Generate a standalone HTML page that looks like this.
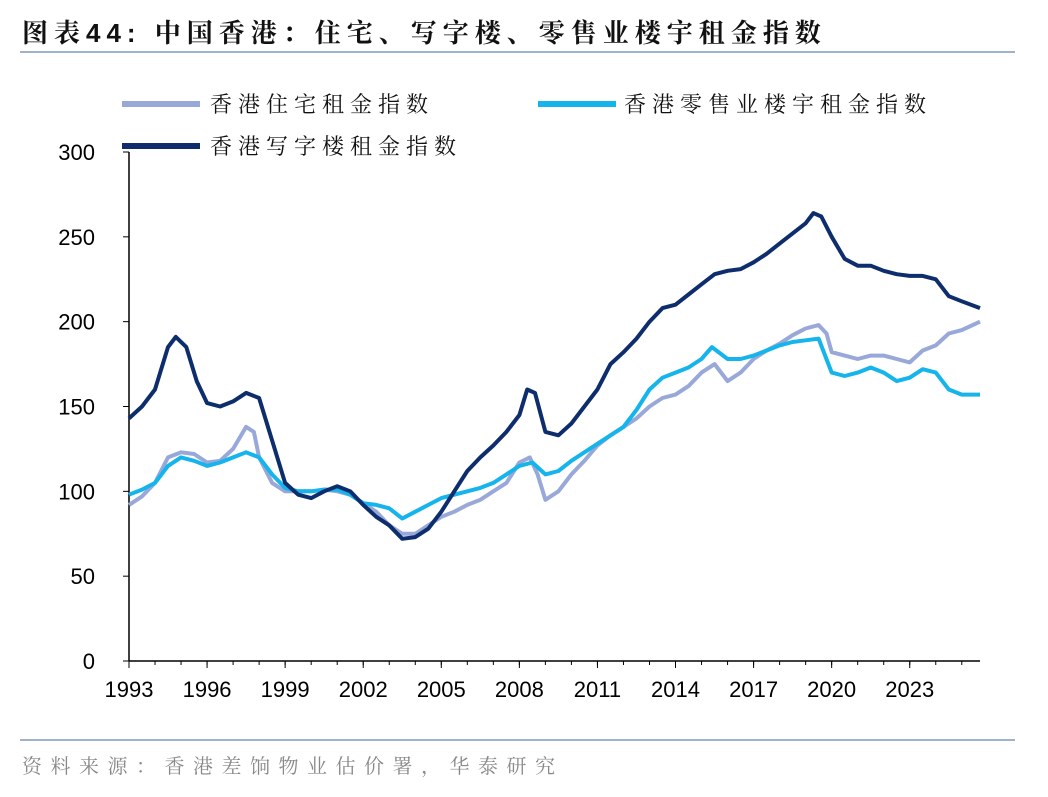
<!DOCTYPE html>
<html><head><meta charset="utf-8"><style>
body{margin:0;width:1048px;height:792px;background:#fff;font-family:"Liberation Sans","Noto Sans CJK SC",sans-serif;overflow:hidden}
</style></head><body>
<svg width="1048" height="792">
<text x="22" y="42" font-size="26" font-weight="bold" fill="#111" letter-spacing="6" font-family="Liberation Sans,Noto Serif CJK SC,serif">图表44:  中国香港：住宅、写字楼、零售业楼宇租金指数</text>
<line x1="20" y1="52" x2="1015" y2="52" stroke="#9fb3cb" stroke-width="2"/>
<g font-size="22" fill="#111" font-family="Liberation Sans,Noto Serif CJK SC,serif">
<line x1="122" y1="104" x2="200" y2="104" stroke="#98a8d8" stroke-width="6"/>
<text x="210" y="112" letter-spacing="6">香港住宅租金指数</text>
<line x1="538" y1="104" x2="616" y2="104" stroke="#16b4ec" stroke-width="6"/>
<text x="624" y="112" letter-spacing="6">香港零售业楼宇租金指数</text>
<line x1="122" y1="146" x2="200" y2="146" stroke="#0d2d6c" stroke-width="6"/>
<text x="210" y="154" letter-spacing="6">香港写字楼租金指数</text>
</g>
<g id="axes"></g>
<g id="series"></g>
<line x1="20" y1="740" x2="1015" y2="740" stroke="#9fb3cb" stroke-width="2"/>
<text x="22" y="773" font-size="20" fill="#888" letter-spacing="8.5" font-family="Liberation Sans,Noto Serif CJK SC,serif">资料来源：香港差饷物业估价署，华泰研究</text>
</svg>
<script>
const yTicks=[0,50,100,150,200,250,300];
const xTicks=[1993,1996,1999,2002,2005,2008,2011,2014,2017,2020,2023];
const officeT=[1993,1993.5,1994,1994.5,1994.8,1995.2,1995.6,1996,1996.5,1997,1997.5,1998,1998.5,1999,1999.5,2000,2000.5,2001,2001.5,2002,2002.5,2003,2003.5,2004,2004.5,2005,2005.5,2006,2006.5,2007,2007.5,2008,2008.3,2008.6,2009,2009.5,2010,2010.5,2011,2011.5,2012,2012.5,2013,2013.5,2014,2014.5,2015,2015.5,2016,2016.5,2017,2017.5,2018,2018.5,2019,2019.3,2019.6,2020,2020.5,2021,2021.5,2022,2022.5,2023,2023.5,2024,2024.5,2025,2025.7];
const officeV=[143,150,160,185,191,185,165,152,150,153,158,155,130,105,98,96,100,103,100,92,85,80,72,73,78,88,100,112,120,127,135,145,160,158,135,133,140,150,160,175,182,190,200,208,210,216,222,228,230,231,235,240,246,252,258,264,262,250,237,233,233,230,228,227,227,225,215,212,208];
const resT=[1993,1993.5,1994,1994.5,1995,1995.5,1996,1996.5,1997,1997.5,1997.8,1998,1998.5,1999,1999.5,2000,2000.5,2001,2001.5,2002,2002.5,2003,2003.5,2004,2004.5,2005,2005.5,2006,2006.5,2007,2007.5,2008,2008.4,2008.7,2009,2009.5,2010,2010.5,2011,2011.5,2012,2012.5,2013,2013.5,2014,2014.5,2015,2015.5,2016,2016.5,2017,2017.5,2018,2018.5,2019,2019.5,2019.8,2020,2020.5,2021,2021.5,2022,2022.5,2023,2023.5,2024,2024.5,2025,2025.7];
const resV=[92,97,105,120,123,122,117,118,125,138,135,120,105,100,100,100,101,100,98,93,88,80,75,75,80,85,88,92,95,100,105,117,120,110,95,100,110,118,127,133,138,143,150,155,157,162,170,175,165,170,178,183,187,192,196,198,193,182,180,178,180,180,178,176,183,186,193,195,200];
const retT=[1993,1993.5,1994,1994.5,1995,1995.5,1996,1996.5,1997,1997.5,1998,1998.5,1999,1999.5,2000,2000.5,2001,2001.5,2002,2002.5,2003,2003.5,2004,2004.5,2005,2005.5,2006,2006.5,2007,2007.5,2008,2008.5,2009,2009.5,2010,2010.5,2011,2011.5,2012,2012.5,2013,2013.5,2014,2014.5,2015,2015.4,2016,2016.5,2017,2017.5,2018,2018.5,2019,2019.5,2020,2020.5,2021,2021.5,2022,2022.5,2023,2023.5,2024,2024.5,2025,2025.7];
const retV=[98,101,105,115,120,118,115,117,120,123,120,110,102,100,100,101,101,98,93,92,90,84,88,92,96,98,100,102,105,110,115,117,110,112,118,123,128,133,138,148,160,167,170,173,178,185,178,178,180,183,186,188,189,190,170,168,170,173,170,165,167,172,170,160,157,157];
const NS="http://www.w3.org/2000/svg";
const x=t=>129+(t-1993)*(980-129)/(2025.7-1993);
const y=v=>661-v*(661-152)/300;
function mk(tag,attrs,parent){const e=document.createElementNS(NS,tag);for(const k in attrs)e.setAttribute(k,attrs[k]);parent.appendChild(e);return e;}
const ax=document.getElementById('axes');
let yl=mk('line',{x1:129,y1:152,x2:129,y2:661,stroke:'#000','stroke-width':1.5},ax);


let xl=mk('line',{x1:129,y1:661,x2:980,y2:661,stroke:'#000','stroke-width':1.5},ax);


yTicks.forEach(v=>{mk('line',{x1:123,x2:129,y1:y(v),y2:y(v),stroke:'#000'},ax);
const t=mk('text',{x:95,y:y(v)+8,'font-size':22,'text-anchor':'end',fill:'#000'},ax);t.textContent=v;

});
xTicks.forEach(v=>{mk('line',{x1:x(v),x2:x(v),y1:661,y2:668,stroke:'#000'},ax);
const t=mk('text',{x:x(v),y:697,'font-size':22,'text-anchor':'middle',fill:'#000'},ax);t.textContent=v;

});
for(let yr=1993;yr<=2025;yr++)mk('line',{x1:x(yr),x2:x(yr),y1:661,y2:665,stroke:'#000'},ax);
const sg=document.getElementById('series');
function line(T,V,col,name){const d=T.map((t,i)=>(i?'L':'M')+x(t).toFixed(1)+','+y(V[i]).toFixed(1)).join('');
const p=mk('path',{d:d,fill:'none',stroke:col,'stroke-width':4,'stroke-linejoin':'round'},sg);

}
line(resT,resV,'#98a8d8','residential-rent-line');
line(retT,retV,'#16b4ec','retail-rent-line');
line(officeT,officeV,'#0d2d6c','office-rent-line');
</script>
</body></html>
